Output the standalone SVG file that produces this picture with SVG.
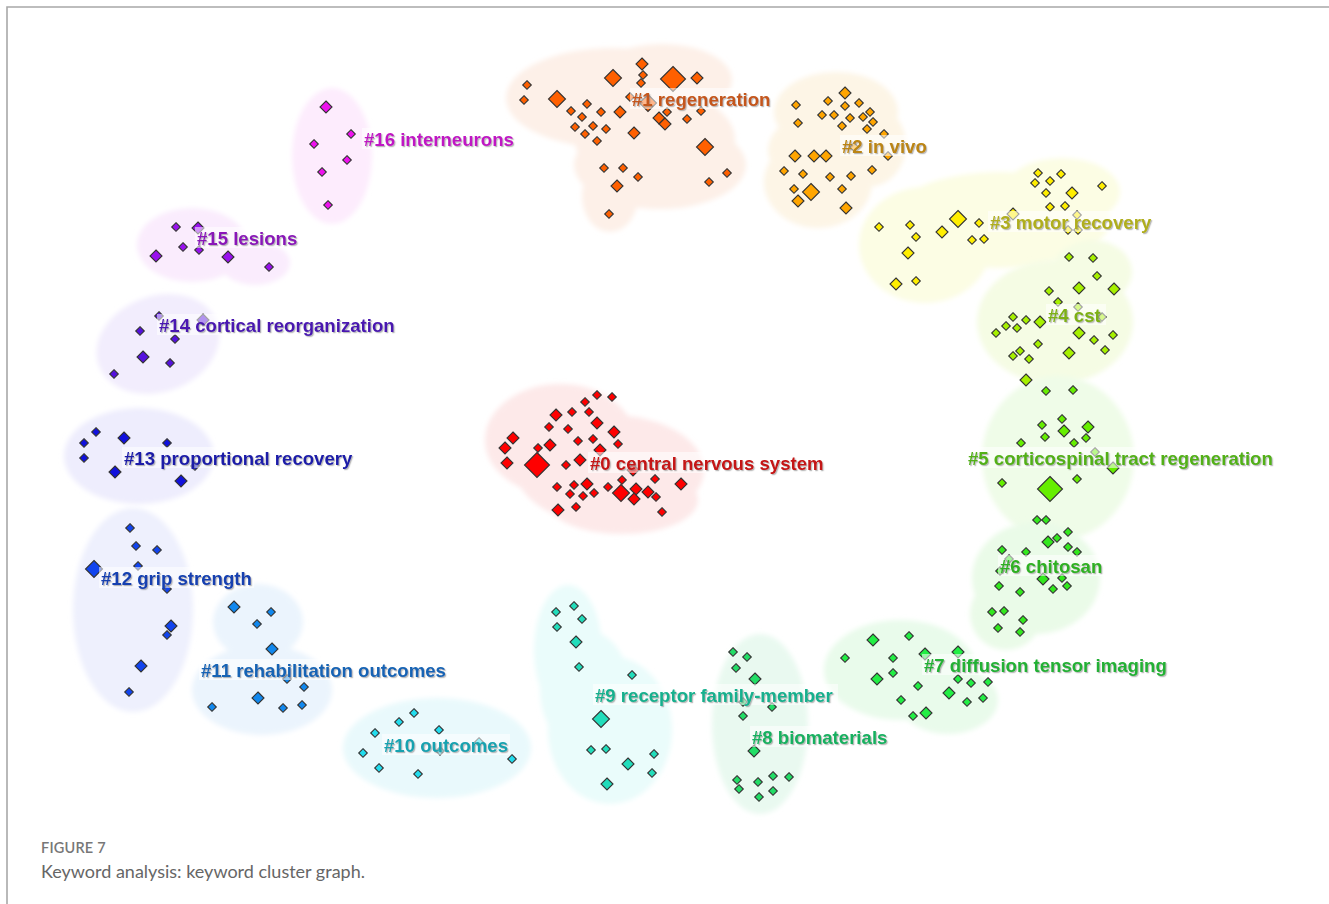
<svg xmlns="http://www.w3.org/2000/svg" xmlns:xlink="http://www.w3.org/1999/xlink" width="1329" height="904" viewBox="0 0 1329 904">
<style>
  .hull { filter:url(#soft); }
  .lbl { font-family:"Liberation Sans", Arial, sans-serif; font-weight:bold; font-size:18.6px; filter:url(#shadow); }
  .lbg { fill:#ffffff; fill-opacity:0.55; }
  .cap1 { font-family:Lato, "Open Sans", sans-serif; font-size:14.5px; font-weight:600; fill:#777; letter-spacing:0.2px; }
  .cap2 { font-family:Lato, "Open Sans", sans-serif; font-size:18px; fill:#666; }
  use { stroke:#333; stroke-width:1.1; }
</style>
<defs>
  <filter id="soft" x="-20%" y="-20%" width="140%" height="140%"><feGaussianBlur stdDeviation="2.5"/></filter>
  <filter id="shadow" x="-5%" y="-30%" width="110%" height="160%">
    <feDropShadow dx="1.2" dy="1.2" stdDeviation="0.7" flood-color="#666" flood-opacity="0.45"/>
  </filter>
  <path id="s" d="M0,-4.3 L4.3,0 0,4.3 -4.3,0Z"/>
  <path id="m" d="M0,-6 L6,0 0,6 -6,0Z"/>
  <path id="l" d="M0,-8.5 L8.5,0 0,8.5 -8.5,0Z"/>
  <path id="x" d="M0,-12.5 L12.5,0 0,12.5 -12.5,0Z"/>
</defs>

<rect width="1329" height="904" fill="#ffffff"/>
<!-- frame -->
<path d="M7,904 V7 H1329" fill="none" stroke="#a8a8a8" stroke-width="1.6"/>

<!-- cluster hulls -->
<g id="hulls">
  <g class="hull" fill="#fdf0e8">
    <ellipse cx="612" cy="98" rx="106" ry="50"/>
    <ellipse cx="662" cy="80" rx="70" ry="36"/>
    <ellipse cx="655" cy="140" rx="80" ry="50"/>
    <ellipse cx="660" cy="165" rx="86" ry="44"/>
    <ellipse cx="610" cy="196" rx="28" ry="36"/>
  </g>
  <g class="hull" fill="#fdf5e6">
    <ellipse cx="836" cy="112" rx="62" ry="40"/>
    <ellipse cx="830" cy="150" rx="62" ry="40"/>
    <ellipse cx="818" cy="182" rx="54" ry="46"/>
    <ellipse cx="868" cy="145" rx="38" ry="42"/>
  </g>
  <g class="hull" fill="#fcfde4">
    <ellipse cx="925" cy="245" rx="66" ry="58"/>
    <ellipse cx="1000" cy="220" rx="110" ry="48"/>
    <ellipse cx="1062" cy="192" rx="58" ry="34"/>
  </g>
  <g class="hull" fill="#f5fce4">
    <ellipse cx="1055" cy="322" rx="78" ry="62"/>
    <ellipse cx="1092" cy="272" rx="40" ry="32"/>
  </g>
  <g class="hull" fill="#effce8">
    <ellipse cx="1058" cy="458" rx="76" ry="82"/>
  </g>
  <g class="hull" fill="#eafbe8">
    <ellipse cx="1036" cy="578" rx="64" ry="56"/>
    <ellipse cx="1006" cy="614" rx="36" ry="36"/>
  </g>
  <g class="hull" fill="#e9fbeb">
    <ellipse cx="900" cy="670" rx="76" ry="50"/>
    <ellipse cx="948" cy="700" rx="50" ry="34"/>
  </g>
  <g class="hull" fill="#e9f9f0">
    <ellipse cx="760" cy="724" rx="48" ry="90"/>
  </g>
  <g class="hull" fill="#eafcfb">
    <ellipse cx="568" cy="650" rx="34" ry="65"/>
    <ellipse cx="585" cy="690" rx="45" ry="60"/>
    <ellipse cx="610" cy="730" rx="62" ry="74"/>
  </g>
  <g class="hull" fill="#e9f9fc">
    <ellipse cx="437" cy="748" rx="94" ry="50"/>
  </g>
  <g class="hull" fill="#ebf4fd">
    <ellipse cx="258" cy="622" rx="45" ry="38"/>
    <ellipse cx="262" cy="690" rx="70" ry="45"/>
  </g>
  <g class="hull" fill="#eef0fd">
    <ellipse cx="133" cy="610" rx="60" ry="102"/>
  </g>
  <g class="hull" fill="#eeedfd">
    <ellipse cx="139" cy="456" rx="75" ry="48"/>
  </g>
  <g class="hull" fill="#f2edfd">
    <ellipse cx="158" cy="344" rx="63" ry="48" transform="rotate(-20 158 344)"/>
  </g>
  <g class="hull" fill="#faecfd">
    <ellipse cx="192" cy="245" rx="55" ry="37"/>
    <ellipse cx="255" cy="263" rx="35" ry="22"/>
  </g>
  <g class="hull" fill="#fdecfd">
    <ellipse cx="332" cy="156" rx="40" ry="68"/>
  </g>
  <g class="hull" fill="#fde9e9">
    <ellipse cx="560" cy="440" rx="75" ry="56"/>
    <ellipse cx="610" cy="470" rx="94" ry="55"/>
    <ellipse cx="622" cy="500" rx="76" ry="34"/>
  </g>
</g>

<!-- #1 regeneration -->
<g id="cluster-1" fill="#ff6000">
  <use href="#s" x="527" y="85"/><use href="#s" x="524" y="100"/><use href="#l" x="557" y="99"/>
  <use href="#l" x="613" y="78"/><use href="#m" x="642" y="64"/><use href="#s" x="643" y="75"/>
  <use href="#s" x="641" y="83"/><use href="#x" x="673" y="79"/><use href="#m" x="697" y="78"/>
  <use href="#s" x="630" y="97"/><use href="#l" x="648" y="103"/><use href="#s" x="667" y="112"/>
  <use href="#m" x="659" y="118"/><use href="#m" x="665" y="124"/><use href="#s" x="687" y="119"/>
  <use href="#s" x="701" y="111"/><use href="#s" x="571" y="111"/><use href="#s" x="587" y="104"/>
  <use href="#s" x="582" y="117"/><use href="#s" x="601" y="112"/><use href="#m" x="620" y="112"/>
  <use href="#s" x="575" y="127"/><use href="#s" x="593" y="126"/><use href="#s" x="606" y="129"/>
  <use href="#s" x="585" y="134"/><use href="#s" x="597" y="141"/><use href="#m" x="634" y="133"/>
  <use href="#l" x="705" y="147"/><use href="#s" x="604" y="168"/><use href="#s" x="623" y="168"/>
  <use href="#s" x="638" y="177"/><use href="#m" x="617" y="186"/><use href="#s" x="709" y="182"/>
  <use href="#s" x="727" y="173"/><use href="#s" x="609" y="214"/>
</g>

<!-- #2 in vivo -->
<g id="cluster-2" fill="#ffa500">
  <use href="#m" x="845" y="93"/><use href="#s" x="796" y="105"/><use href="#s" x="828" y="101"/>
  <use href="#s" x="859" y="103"/><use href="#s" x="822" y="115"/><use href="#s" x="834" y="115"/>
  <use href="#s" x="845" y="106"/><use href="#s" x="850" y="118"/><use href="#s" x="863" y="117"/>
  <use href="#s" x="870" y="112"/><use href="#s" x="873" y="122"/><use href="#s" x="842" y="126"/>
  <use href="#s" x="867" y="129"/><use href="#s" x="798" y="123"/><use href="#s" x="884" y="134"/>
  <use href="#s" x="888" y="156"/><use href="#s" x="854" y="147"/><use href="#m" x="795" y="156"/>
  <use href="#m" x="814" y="156"/><use href="#m" x="826" y="156"/><use href="#s" x="784" y="171"/>
  <use href="#s" x="803" y="174"/><use href="#s" x="830" y="177"/><use href="#s" x="851" y="176"/>
  <use href="#s" x="872" y="170"/><use href="#s" x="794" y="189"/><use href="#l" x="811" y="192"/>
  <use href="#m" x="798" y="201"/><use href="#s" x="842" y="189"/><use href="#m" x="846" y="208"/>
</g>

<!-- #3 motor recovery -->
<g id="cluster-3" fill="#ffee00">
  <use href="#s" x="879" y="227"/><use href="#s" x="910" y="225"/><use href="#s" x="916" y="237"/>
  <use href="#m" x="908" y="253"/><use href="#m" x="942" y="232"/><use href="#l" x="958" y="219"/>
  <use href="#s" x="979" y="223"/><use href="#s" x="972" y="240"/><use href="#s" x="984" y="239"/>
  <use href="#m" x="896" y="284"/><use href="#s" x="916" y="281"/><use href="#m" x="1013" y="214"/>
  <use href="#s" x="1038" y="173"/><use href="#s" x="1061" y="174"/><use href="#s" x="1050" y="181"/>
  <use href="#s" x="1035" y="183"/><use href="#s" x="1046" y="193"/><use href="#m" x="1072" y="193"/>
  <use href="#s" x="1102" y="186"/><use href="#s" x="1050" y="207"/><use href="#s" x="1065" y="206"/>
  <use href="#s" x="1077" y="215"/><use href="#s" x="1068" y="230"/><use href="#s" x="1078" y="230"/>
</g>

<!-- #4 cst -->
<g id="cluster-4" fill="#a6f000">
  <use href="#s" x="1069" y="257"/><use href="#s" x="1093" y="258"/><use href="#s" x="1097" y="276"/>
  <use href="#m" x="1079" y="288"/><use href="#m" x="1114" y="289"/><use href="#s" x="1049" y="291"/>
  <use href="#s" x="1058" y="302"/><use href="#s" x="1078" y="307"/><use href="#s" x="1102" y="317"/>
  <use href="#s" x="1013" y="317"/><use href="#s" x="1026" y="320"/><use href="#s" x="1006" y="326"/>
  <use href="#s" x="1017" y="328"/><use href="#m" x="1040" y="322"/><use href="#s" x="996" y="333"/>
  <use href="#m" x="1079" y="333"/><use href="#s" x="1094" y="340"/><use href="#s" x="1113" y="335"/>
  <use href="#s" x="1038" y="344"/><use href="#s" x="1020" y="351"/><use href="#s" x="1013" y="356"/>
  <use href="#s" x="1029" y="359"/><use href="#s" x="1105" y="350"/><use href="#m" x="1069" y="353"/>
  <use href="#m" x="1026" y="380"/>
</g>

<!-- #5 corticospinal tract regeneration -->
<g id="cluster-5" fill="#66ee00">
  <use href="#s" x="1046" y="391"/><use href="#s" x="1073" y="390"/>
  <use href="#s" x="1062" y="419"/><use href="#s" x="1042" y="425"/><use href="#s" x="1045" y="437"/>
  <use href="#m" x="1064" y="431"/><use href="#m" x="1088" y="427"/><use href="#s" x="1021" y="443"/>
  <use href="#s" x="1074" y="443"/><use href="#s" x="1086" y="438"/><use href="#s" x="1095" y="452"/>
  <use href="#m" x="1113" y="468"/><use href="#s" x="1002" y="483"/><use href="#x" x="1050" y="489"/>
  <use href="#s" x="1077" y="479"/>
</g>

<!-- #6 chitosan -->
<g id="cluster-6" fill="#33e81e">
  <use href="#s" x="1037" y="520"/><use href="#s" x="1046" y="520"/>
  <use href="#m" x="1048" y="542"/><use href="#s" x="1057" y="538"/><use href="#s" x="1068" y="532"/>
  <use href="#s" x="1068" y="547"/><use href="#s" x="1077" y="552"/><use href="#s" x="1002" y="550"/>
  <use href="#s" x="1026" y="552"/><use href="#s" x="1009" y="559"/><use href="#s" x="1000" y="571"/>
  <use href="#m" x="1043" y="579"/><use href="#s" x="1053" y="589"/><use href="#s" x="1067" y="586"/>
  <use href="#s" x="1062" y="578"/><use href="#s" x="999" y="586"/><use href="#s" x="1020" y="592"/>
  <use href="#s" x="992" y="612"/><use href="#s" x="1004" y="611"/><use href="#s" x="1023" y="620"/>
  <use href="#s" x="998" y="628"/><use href="#s" x="1020" y="632"/>
</g>

<!-- #7 diffusion tensor imaging -->
<g id="cluster-7" fill="#22ee44">
  <use href="#m" x="873" y="640"/><use href="#s" x="909" y="636"/><use href="#s" x="845" y="658"/>
  <use href="#s" x="893" y="658"/><use href="#s" x="893" y="673"/><use href="#m" x="877" y="679"/>
  <use href="#m" x="925" y="654"/><use href="#m" x="958" y="652"/><use href="#s" x="918" y="686"/>
  <use href="#s" x="901" y="700"/><use href="#s" x="913" y="716"/><use href="#m" x="926" y="713"/>
  <use href="#m" x="949" y="693"/><use href="#s" x="958" y="679"/><use href="#s" x="971" y="683"/>
  <use href="#s" x="988" y="682"/><use href="#s" x="967" y="702"/><use href="#s" x="983" y="698"/>
</g>

<!-- #8 biomaterials -->
<g id="cluster-8" fill="#22dd66">
  <use href="#s" x="733" y="652"/><use href="#s" x="747" y="657"/><use href="#s" x="736" y="668"/>
  <use href="#m" x="755" y="679"/><use href="#s" x="743" y="702"/><use href="#s" x="772" y="707"/>
  <use href="#s" x="743" y="716"/><use href="#m" x="754" y="751"/><use href="#s" x="737" y="780"/>
  <use href="#s" x="739" y="789"/><use href="#s" x="758" y="782"/><use href="#s" x="773" y="776"/>
  <use href="#s" x="789" y="777"/><use href="#s" x="759" y="797"/><use href="#s" x="773" y="791"/>
</g>

<!-- #9 receptor family-member -->
<g id="cluster-9" fill="#22ddbb">
  <use href="#s" x="556" y="612"/><use href="#s" x="574" y="606"/><use href="#s" x="582" y="619"/>
  <use href="#s" x="557" y="627"/><use href="#m" x="576" y="642"/><use href="#s" x="579" y="667"/>
  <use href="#s" x="632" y="675"/><use href="#l" x="601" y="719"/><use href="#s" x="591" y="750"/>
  <use href="#s" x="606" y="749"/><use href="#s" x="654" y="754"/><use href="#m" x="628" y="764"/>
  <use href="#s" x="652" y="773"/><use href="#m" x="607" y="784"/>
</g>

<!-- #10 outcomes -->
<g id="cluster-10" fill="#22ddee">
  <use href="#s" x="414" y="713"/><use href="#s" x="399" y="722"/><use href="#s" x="439" y="730"/>
  <use href="#s" x="375" y="733"/><use href="#s" x="363" y="753"/><use href="#s" x="379" y="768"/>
  <use href="#s" x="418" y="774"/><use href="#s" x="479" y="742"/><use href="#s" x="440" y="751"/>
  <use href="#s" x="512" y="759"/>
</g>

<!-- #11 rehabilitation outcomes -->
<g id="cluster-11" fill="#1188ee">
  <use href="#m" x="234" y="607"/><use href="#s" x="271" y="612"/><use href="#s" x="257" y="624"/>
  <use href="#m" x="272" y="649"/><use href="#s" x="287" y="679"/><use href="#s" x="304" y="687"/>
  <use href="#s" x="212" y="707"/><use href="#m" x="258" y="698"/><use href="#s" x="283" y="708"/>
  <use href="#s" x="302" y="705"/>
</g>

<!-- #12 grip strength -->
<g id="cluster-12" fill="#1144ee">
  <use href="#s" x="130" y="528"/><use href="#s" x="136" y="546"/><use href="#s" x="157" y="550"/>
  <use href="#l" x="94" y="569"/><use href="#s" x="138" y="566"/><use href="#s" x="167" y="589"/>
  <use href="#m" x="171" y="626"/><use href="#s" x="167" y="635"/><use href="#m" x="141" y="666"/>
  <use href="#s" x="129" y="692"/>
</g>

<!-- #13 proportional recovery -->
<g id="cluster-13" fill="#1111dd">
  <use href="#s" x="96" y="432"/><use href="#s" x="84" y="443"/><use href="#m" x="124" y="438"/>
  <use href="#s" x="167" y="443"/><use href="#s" x="84" y="458"/><use href="#m" x="115" y="472"/>
  <use href="#m" x="181" y="481"/><use href="#s" x="195" y="466"/>
</g>

<!-- #14 cortical reorganization -->
<g id="cluster-14" fill="#5511dd">
  <use href="#s" x="159" y="316"/><use href="#m" x="203" y="320"/><use href="#s" x="140" y="331"/>
  <use href="#s" x="175" y="339"/><use href="#m" x="143" y="357"/><use href="#s" x="170" y="363"/>
  <use href="#s" x="114" y="374"/>
</g>

<!-- #15 lesions -->
<g id="cluster-15" fill="#9911ee">
  <use href="#s" x="176" y="227"/><use href="#m" x="198" y="228"/><use href="#s" x="183" y="247"/>
  <use href="#s" x="199" y="250"/><use href="#m" x="156" y="256"/><use href="#m" x="228" y="257"/>
  <use href="#s" x="269" y="267"/>
</g>

<!-- #16 interneurons -->
<g id="cluster-16" fill="#ee11ee">
  <use href="#m" x="326" y="107"/><use href="#s" x="351" y="134"/><use href="#s" x="314" y="144"/>
  <use href="#s" x="347" y="160"/><use href="#s" x="322" y="172"/><use href="#s" x="328" y="205"/>
</g>

<!-- #0 central nervous system -->
<g id="cluster-0" fill="#ff0000">
  <use href="#s" x="597" y="395"/><use href="#s" x="612" y="397"/><use href="#s" x="585" y="402"/>
  <use href="#m" x="556" y="415"/><use href="#s" x="572" y="412"/><use href="#s" x="589" y="412"/>
  <use href="#m" x="597" y="423"/><use href="#s" x="549" y="427"/><use href="#s" x="568" y="429"/>
  <use href="#m" x="614" y="432"/><use href="#m" x="513" y="438"/><use href="#m" x="505" y="448"/>
  <use href="#s" x="538" y="448"/><use href="#m" x="550" y="445"/><use href="#s" x="578" y="441"/>
  <use href="#s" x="593" y="439"/><use href="#s" x="618" y="444"/><use href="#m" x="600" y="450"/>
  <use href="#m" x="507" y="463"/><use href="#x" x="537" y="465"/><use href="#s" x="566" y="465"/>
  <use href="#m" x="580" y="460"/><use href="#m" x="633" y="470"/><use href="#s" x="655" y="479"/>
  <use href="#m" x="681" y="484"/><use href="#s" x="557" y="487"/><use href="#s" x="574" y="485"/>
  <use href="#m" x="587" y="484"/><use href="#s" x="570" y="494"/><use href="#s" x="583" y="496"/>
  <use href="#s" x="594" y="493"/><use href="#s" x="608" y="487"/><use href="#l" x="621" y="493"/>
  <use href="#s" x="622" y="480"/><use href="#m" x="636" y="489"/><use href="#m" x="648" y="492"/>
  <use href="#s" x="656" y="497"/><use href="#m" x="634" y="499"/><use href="#m" x="558" y="510"/>
  <use href="#s" x="576" y="507"/><use href="#s" x="662" y="512"/>
</g>

<!-- cluster labels -->
<g id="labels">
  <rect class="lbg" x="630" y="88" width="142" height="21"/>
  <text class="lbl" x="632" y="106" fill="#c4561a">#1 regeneration</text>
  <rect class="lbg" x="840" y="135" width="90" height="21"/>
  <text class="lbl" x="842" y="153" fill="#bb8512">#2 in vivo</text>
  <rect class="lbg" x="988" y="211" width="166" height="21"/>
  <text class="lbl" x="990" y="229" fill="#b0ae1e">#3 motor recovery</text>
  <rect class="lbg" x="1046" y="304" width="60" height="21"/>
  <text class="lbl" x="1048" y="322" fill="#7db012">#4 cst</text>
  <rect class="lbg" x="966" y="447" width="310" height="21"/>
  <text class="lbl" x="968" y="465" fill="#52b018">#5 corticospinal tract regeneration</text>
  <rect class="lbg" x="998" y="555" width="106" height="21"/>
  <text class="lbl" x="1000" y="573" fill="#2eb020">#6 chitosan</text>
  <rect class="lbg" x="922" y="654" width="250" height="21"/>
  <text class="lbl" x="924" y="672" fill="#22b034">#7 diffusion tensor imaging</text>
  <rect class="lbg" x="750" y="726" width="142" height="21"/>
  <text class="lbl" x="752" y="744" fill="#16b060">#8 biomaterials</text>
  <rect class="lbg" x="593" y="684" width="245" height="21"/>
  <text class="lbl" x="595" y="702" fill="#16b08e">#9 receptor family-member</text>
  <rect class="lbg" x="382" y="734" width="128" height="21"/>
  <text class="lbl" x="384" y="752" fill="#18a2b0">#10 outcomes</text>
  <rect class="lbg" x="199" y="659" width="253" height="21"/>
  <text class="lbl" x="201" y="677" fill="#1664b4">#11 rehabilitation outcomes</text>
  <rect class="lbg" x="99" y="567" width="155" height="21"/>
  <text class="lbl" x="101" y="585" fill="#1240b0">#12 grip strength</text>
  <rect class="lbg" x="122" y="447" width="234" height="21"/>
  <text class="lbl" x="124" y="465" fill="#1a1aa8">#13 proportional recovery</text>
  <rect class="lbg" x="157" y="314" width="241" height="21"/>
  <text class="lbl" x="159" y="332" fill="#4a18b0">#14 cortical reorganization</text>
  <rect class="lbg" x="195" y="227" width="105" height="21"/>
  <text class="lbl" x="197" y="245" fill="#8a18b8">#15 lesions</text>
  <rect class="lbg" x="362" y="128" width="154" height="21"/>
  <text class="lbl" x="364" y="146" fill="#c018c4">#16 interneurons</text>
  <rect class="lbg" x="588" y="452" width="239" height="21"/>
  <text class="lbl" x="590" y="470" fill="#c41212">#0 central nervous system</text>
</g>

<!-- caption -->
<text class="cap1" x="41" y="853">FIGURE 7</text>
<text class="cap2" x="41" y="878">Keyword analysis: keyword cluster graph.</text>
</svg>
